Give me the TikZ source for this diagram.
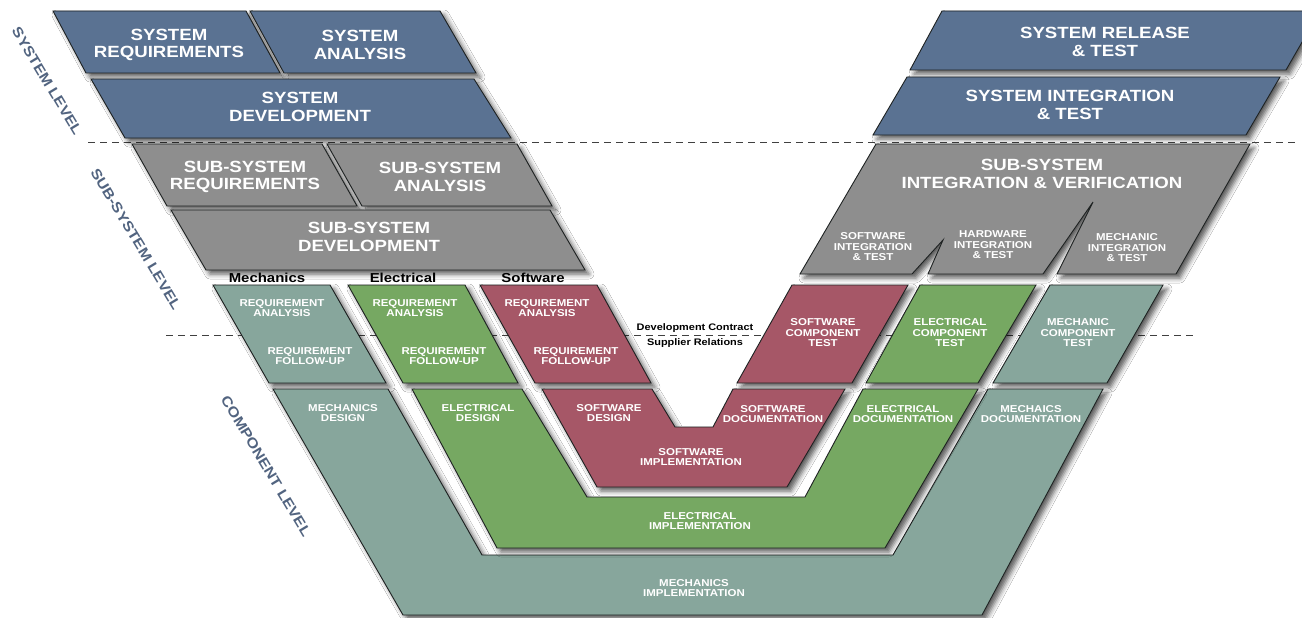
\documentclass[tikz,border=0pt]{standalone}
\usepackage{fontspec}
\setmainfont{Liberation Sans}
\newfontfamily\widefont{Liberation Sans}[FakeStretch=1.15]
\usetikzlibrary{shadows.blur}
\definecolor{sysblue}{RGB}{90,114,146}
\definecolor{subgray}{RGB}{142,142,142}
\definecolor{mechc}{RGB}{135,166,156}
\definecolor{elecc}{RGB}{118,168,98}
\definecolor{softc}{RGB}{166,87,103}
\definecolor{sidec}{RGB}{82,100,128}
\definecolor{edgec}{RGB}{30,34,34}
\tikzset{
  slab/.style={draw=edgec, line width=0.9pt, line join=miter,
    blur shadow={shadow xshift=4pt, shadow yshift=-4pt, shadow blur radius=5pt, shadow opacity=65}},
  bigtxt/.style={font=\widefont\bfseries\fontsize{16.2}{17.5}\selectfont, text=white, align=center, inner sep=0pt},
  smtxt/.style={font=\widefont\bfseries\fontsize{10}{10.5}\selectfont, text=white, align=center, inner sep=0pt},
  grplab/.style={font=\widefont\bfseries\fontsize{13}{14}\selectfont, text=black, inner sep=0pt},
  devlab/.style={font=\widefont\bfseries\fontsize{9.5}{14}\selectfont, text=black, inner sep=0pt},
  sidelab/.style={font=\widefont\bfseries\fontsize{14}{15}\selectfont, text=sidec, inner sep=0pt, rotate=-59},
  levelline/.style={draw=black!75, line width=1pt, dash pattern=on 7pt off 5pt}
}
\begin{document}
\begin{tikzpicture}[x=1pt,y=-1pt]
\useasboundingbox (0,0) rectangle (1302,618);
\fill[white] (0,0) rectangle (1302,618);

% level separators
\coordinate (d1a) at (88,142);
\coordinate (d1b) at (1296,142);
\coordinate (d2a) at (166,335);
\coordinate (d2b) at (1195,335);
\draw[levelline] (d1a) -- (d1b);
\draw[levelline] (d2a) -- (d2b);

% ---------- system level ----------
\path[slab, fill=sysblue] (53,11) -- (246,11) -- (280,73) -- (86,73) -- cycle;
\path[slab, fill=sysblue] (250,11) -- (440,11) -- (476,73) -- (284,73) -- cycle;
\path[slab, fill=sysblue] (91,79) -- (474,79) -- (511,138) -- (125,138) -- cycle;
\path[slab, fill=sysblue] (942,11) -- (1320,11) -- (1286,70) -- (910,70) -- cycle;
\path[slab, fill=sysblue] (907,77) -- (1280,77) -- (1246,135) -- (873,135) -- cycle;

\node[bigtxt] (sreq) at (169,45) {SYSTEM\\REQUIREMENTS};
\node[bigtxt] (sana) at (360,45) {SYSTEM\\ANALYSIS};
\node[bigtxt] (sdev) at (300,107) {SYSTEM\\DEVELOPMENT};
\node[bigtxt] (srel) at (1105,42) {SYSTEM RELEASE\\\& TEST};
\node[bigtxt] (sint) at (1070,105) {SYSTEM INTEGRATION\\\& TEST};

% ---------- sub-system level ----------
\path[slab, fill=subgray] (132,144) -- (322,144) -- (357,206) -- (167,206) -- cycle;
\path[slab, fill=subgray] (327,144) -- (517,144) -- (552,206) -- (362,206) -- cycle;
\path[slab, fill=subgray] (171,210) -- (550,210) -- (585,270) -- (206,270) -- cycle;
\path[slab, fill=subgray] (876,144) -- (1250,144) -- (1176,274) -- (1057,274) -- (1093,202)
   -- (1043,274) -- (928,274) -- (943,240) -- (912,274) -- (800,274) -- cycle;

\node[bigtxt] (ssreq) at (245,177) {SUB-SYSTEM\\REQUIREMENTS};
\node[bigtxt] (ssana) at (440,177) {SUB-SYSTEM\\ANALYSIS};
\node[bigtxt] (ssdev) at (369,237) {SUB-SYSTEM\\DEVELOPMENT};
\node[bigtxt] (ssint) at (1042,174) {SUB-SYSTEM\\INTEGRATION \& VERIFICATION};
\node[smtxt] (swint) at (873,247) {SOFTWARE\\INTEGRATION\\\& TEST};
\node[smtxt] (hwint) at (993,245) {HARDWARE\\INTEGRATION\\\& TEST};
\node[smtxt] (meint) at (1127,248) {MECHANIC\\INTEGRATION\\\& TEST};

% ---------- group labels ----------
\node[grplab] (gmech) at (267,278) {Mechanics};
\node[grplab] (gelec) at (403,278) {Electrical};
\node[grplab] (gsoft) at (533,278) {Software};

% ---------- component level: requirements ----------
\path[slab, fill=mechc] (213,285) -- (330,285) -- (386,383) -- (269,383) -- cycle;
\path[slab, fill=elecc] (348,285) -- (465,285) -- (518,383) -- (403,383) -- cycle;
\path[slab, fill=softc] (480,285) -- (597,285) -- (651,383) -- (535,383) -- cycle;

\node[smtxt] (mra) at (282,308) {REQUIREMENT\\ANALYSIS};
\node[smtxt] (mrf) at (310,356) {REQUIREMENT\\FOLLOW-UP};
\node[smtxt] (era) at (415,308) {REQUIREMENT\\ANALYSIS};
\node[smtxt] (erf) at (444,356) {REQUIREMENT\\FOLLOW-UP};
\node[smtxt] (sra) at (547,308) {REQUIREMENT\\ANALYSIS};
\node[smtxt] (srf) at (576,356) {REQUIREMENT\\FOLLOW-UP};

% ---------- component tests ----------
\path[slab, fill=softc] (792,285) -- (908,285) -- (852,383) -- (737,383) -- cycle;
\path[slab, fill=elecc] (920,285) -- (1036,285) -- (978,383) -- (866,383) -- cycle;
\path[slab, fill=mechc] (1050,285) -- (1163,285) -- (1107,383) -- (993,383) -- cycle;

\node[smtxt] (swct) at (823,333) {SOFTWARE\\COMPONENT\\TEST};
\node[smtxt] (elct) at (950,333) {ELECTRICAL\\COMPONENT\\TEST};
\node[smtxt] (mect) at (1078,333) {MECHANIC\\COMPONENT\\TEST};

\node[devlab] (devc) at (695,328) {Development Contract};
\node[devlab] (supr) at (695,343) {Supplier Relations};

% ---------- design / implementation U shapes ----------
\path[slab, fill=mechc] (273,389) -- (388,389) -- (482,555) -- (893,555) -- (988,389)
   -- (1103,389) -- (982,615) -- (403,615) -- cycle;
\path[slab, fill=elecc] (412,389) -- (522,389) -- (587,497) -- (805,497) -- (863,389)
   -- (978,389) -- (885,548) -- (497,548) -- cycle;
\path[slab, fill=softc] (542,389) -- (652,389) -- (675,427) -- (713,427) -- (733,389)
   -- (845,389) -- (787,487) -- (597,487) -- cycle;

\node[smtxt] (mdes) at (343,413) {MECHANICS\\DESIGN};
\node[smtxt] (edes) at (478,413) {ELECTRICAL\\DESIGN};
\node[smtxt] (sdes) at (609,413) {SOFTWARE\\DESIGN};
\node[smtxt] (simp) at (691,457) {SOFTWARE\\IMPLEMENTATION};
\node[smtxt] (eimp) at (700,521) {ELECTRICAL\\IMPLEMENTATION};
\node[smtxt] (mimp) at (694,588) {MECHANICS\\IMPLEMENTATION};
\node[smtxt] (sdoc) at (773,414) {SOFTWARE\\DOCUMENTATION};
\node[smtxt] (edoc) at (903,414) {ELECTRICAL\\DOCUMENTATION};
\node[smtxt] (mdoc) at (1031,414) {MECHAICS\\DOCUMENTATION};

% ---------- level labels ----------
\node[sidelab] (lsys) at (47,81) {SYSTEM LEVEL};
\node[sidelab] (lsub) at (136,239) {SUB-SYSTEM LEVEL};
\node[sidelab] (lcomp) at (266,466) {COMPONENT LEVEL};
\end{tikzpicture}
\end{document}
